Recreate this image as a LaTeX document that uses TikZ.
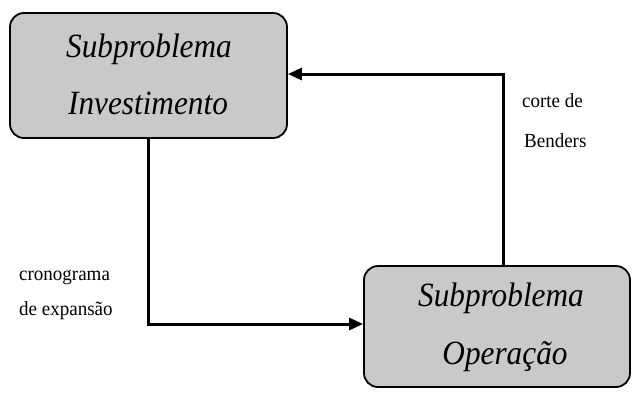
\documentclass[tikz,border=0pt]{standalone}
\usepackage{fontspec}
\setmainfont{Liberation Serif}
\usetikzlibrary{arrows.meta}
\newcommand{\narrowtext}[2][0.92]{\scalebox{#1}[1]{#2}}
\begin{document}
\begin{tikzpicture}[x=1pt,y=-1pt,
  subbox/.style={draw=black, line width=1.8pt, rounded corners=14pt, fill=gray!42},
  boxtext/.style={font=\fontsize{34}{34}\selectfont\itshape, inner sep=0pt},
  lbl/.style={font=\fontsize{20}{20}\selectfont, inner sep=0pt},
  link/.style={line width=3pt, -{Triangle[length=14pt,width=12pt]}}]
\useasboundingbox (0,0) rectangle (633,392);
% the two subproblem boxes
\node[subbox, minimum width=277pt, minimum height=125pt] (inv) at (148.5,75.5) {};
\node[subbox, minimum width=266pt, minimum height=121pt] (op) at (497,326.5) {};
\node[boxtext, anchor=base] (invA) at (149,57) {\narrowtext{Subproblema}};
\node[boxtext, anchor=base] (invB) at (148,114) {\narrowtext{Investimento}};
\node[boxtext, anchor=base] (opA) at (501,306) {\narrowtext{Subproblema}};
\node[boxtext, anchor=base] (opB) at (505,364) {\narrowtext{Operação}};
% flow between the subproblems
\coordinate (c1) at (148,324);
\coordinate (c2) at (503,74);
\draw[link] (inv.south -| c1) -- (c1) -- (op.west |- c1);
\draw[link] (op.north -| c2) -- (c2) -- (inv.east |- c2);
% connector labels
\node[lbl, anchor=base west] (l1) at (19,280) {\narrowtext[0.95]{cronograma}};
\node[lbl, anchor=base west] (l2) at (19,315) {\narrowtext[0.95]{de expansão}};
\node[lbl, anchor=base west] (l3) at (522,107) {\narrowtext[0.95]{corte de}};
\node[lbl, anchor=base west] (l4) at (524,147) {\narrowtext[0.95]{Benders}};
\end{tikzpicture}
\end{document}
